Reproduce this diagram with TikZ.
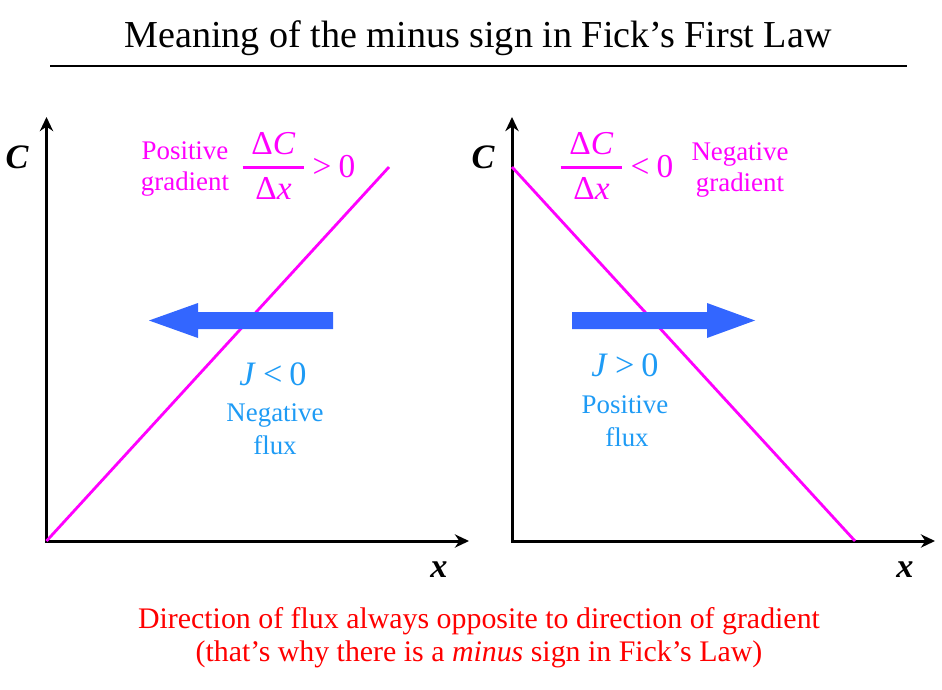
\documentclass[tikz,border=0pt]{standalone}
\usepackage{fontspec}
\setmainfont{Liberation Serif}
\usetikzlibrary{arrows.meta, positioning}

\definecolor{gradpink}{RGB}{255,0,255}
\definecolor{fluxtext}{RGB}{30,155,245}
\definecolor{fluxarrow}{RGB}{51,102,255}
\definecolor{notered}{RGB}{255,0,0}

\newcommand{\gradfrac}{$\displaystyle{\mbox{\hspace{5pt}Δ\textit{C}\hspace{5pt}}\above1.6pt\mbox{Δ\textit{x}}}$}

\begin{document}
\begin{tikzpicture}[
    x=0.02cm, y=-0.02cm,
    axis/.style={draw, line width=1.7pt,
                 {Stealth[length=8pt, width=7.5pt, inset=2.5pt]}-{Stealth[length=8pt, width=7.5pt, inset=2.5pt]}},
    conc/.style={draw=gradpink, line width=1.6pt},
    fluxbar/.style={fill=fluxarrow, draw=none},
    axlbl/.style={font=\fontsize{19.5}{22}\selectfont\bfseries\itshape, inner sep=0pt, anchor=base},
    pink/.style={text=gradpink, font=\fontsize{15.3}{18}\selectfont, inner sep=0pt, anchor=base},
    pinkmath/.style={text=gradpink, font=\fontsize{19}{22}\selectfont, inner sep=0pt, anchor=base},
    frac/.style={text=gradpink, font=\fontsize{19}{22}\selectfont, inner sep=0pt},
    blue/.style={text=fluxtext, font=\fontsize{15.3}{18}\selectfont, inner sep=0pt, anchor=base},
    bluemath/.style={text=fluxtext, font=\fontsize{19.5}{22}\selectfont, inner sep=0pt, anchor=base},
    note/.style={text=notered, font=\fontsize{17}{20}\selectfont, inner sep=0pt, anchor=base}
  ]
  \useasboundingbox (0,0) rectangle (942,689);

  % title and rule
  \node[font=\fontsize{21.7}{25}\selectfont, inner sep=0pt, anchor=base] (title) at (478,48)
    {Meaning of the minus sign in Fick’s First Law};
  \coordinate (rulel) at (50,66);
  \coordinate (ruler) at (907,66);
  \draw[line width=1.4pt] (rulel) -- (ruler);

  % left panel: positive gradient
  \coordinate (oL) at (46.5,541);
  \coordinate (yL) at (46.5,117);
  \coordinate (xL) at (469,541);
  \coordinate (topL) at (389,167);
  \path[axis] (yL) -- (oL) -- (xL);
  \draw[conc] (oL) -- (topL);
  \fill[fluxbar] (333,312) -- (198,312) -- (198,303) -- (149,320.5)
                 -- (198,338) -- (198,329) -- (333,329) -- cycle;

  \node[axlbl] (cL) at (17,169) {C};
  \node[axlbl] (xlblL) at (439,577) {x};
  \node[pink] (posgrad1) at (185,160) {Positive};
  \node[pink] (posgrad2) at (185,191) {gradient};
  \node[frac] (fracL) at (273.5,166) {\gradfrac};
  \node[pinkmath] (gtL) at (334,177) {>\hspace{4pt}0};
  \node[bluemath] (jL) at (273,385) {\textit{J}\hspace{4pt}<\hspace{4pt}0};
  \node[blue] (negflux1) at (275,421) {Negative};
  \node[blue] (negflux2) at (275,454) {flux};

  % right panel: negative gradient
  \coordinate (oR) at (512,541);
  \coordinate (yR) at (512,117);
  \coordinate (xR) at (935,541);
  \coordinate (topR) at (512,167);
  \coordinate (endR) at (855,541);
  \path[axis] (yR) -- (oR) -- (xR);
  \draw[conc] (topR) -- (endR);
  \fill[fluxbar] (572,312) -- (707,312) -- (707,303) -- (755,320.5)
                 -- (707,338) -- (707,329) -- (572,329) -- cycle;

  \node[axlbl] (cR) at (483,169) {C};
  \node[axlbl] (xlblR) at (905,577) {x};
  \node[frac] (fracR) at (591.5,166) {\gradfrac};
  \node[pinkmath] (ltR) at (652,177) {<\hspace{4pt}0};
  \node[pink] (neggrad1) at (740,161) {Negative};
  \node[pink] (neggrad2) at (740,192) {gradient};
  \node[bluemath] (jR) at (625,376) {\textit{J}\hspace{4pt}>\hspace{4pt}0};
  \node[blue] (posflux1) at (625,413) {Positive};
  \node[blue] (posflux2) at (627,446) {flux};

  % conclusion
  \node[note] (note1) at (479,628)
    {Direction of flux always opposite to direction of gradient};
  \node[note] (note2) at (479,661)
    {(that’s why there is a \textit{minus} sign in Fick’s Law)};

\end{tikzpicture}
\end{document}
